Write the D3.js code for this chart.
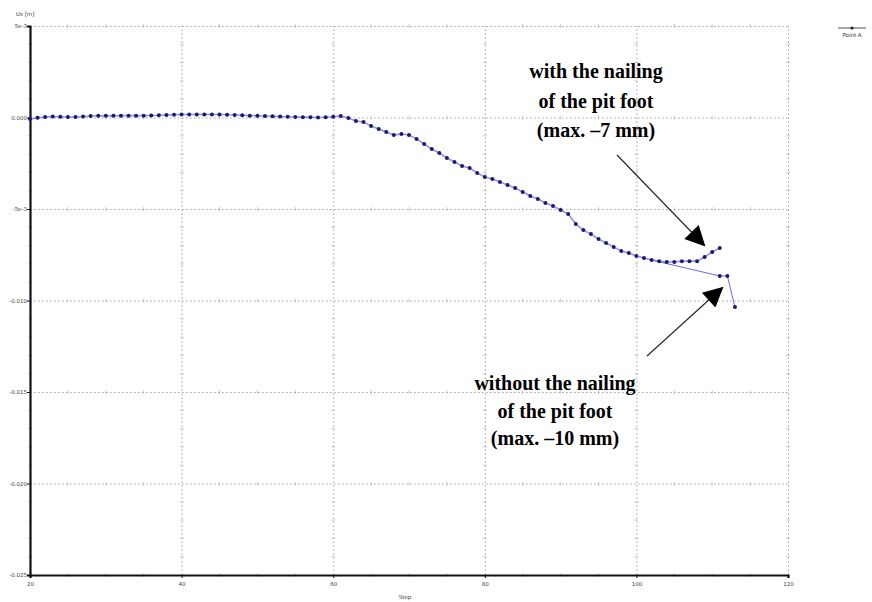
<!DOCTYPE html>
<html>
<head>
<meta charset="utf-8">
<script src="https://cdn.jsdelivr.net/npm/d3@7/dist/d3.min.js"></script>
<style>
  html, body { margin: 0; padding: 0; background: #fff; }
  svg { display: block; }
</style>
</head>
<body>
<svg id="chart" width="872" height="602"></svg>
<script>
// Horizontal displacement Ux of Point A over the calculation steps
const steps = d3.range(20, 112); // 20 … 111
const uxWithNailing = [
  -0.08, -0.02, 0.03, 0.05, 0.04, 0.03, 0.03, 0.05, 0.08, 0.09,
  0.09, 0.09, 0.10, 0.10, 0.10, 0.10, 0.11, 0.12, 0.14, 0.15,
  0.16, 0.16, 0.16, 0.17, 0.16, 0.16, 0.15, 0.14, 0.12, 0.10,
  0.09, 0.08, 0.07, 0.05, 0.04, 0.03, 0.02, 0.01, 0.00, 0.01,
  0.04, 0.08, -0.03, -0.19, -0.25, -0.46, -0.63, -0.79, -0.96, -0.90,
  -0.96, -1.17, -1.45, -1.72, -1.94, -2.21, -2.43, -2.65, -2.76, -3.03,
  -3.25, -3.36, -3.52, -3.69, -3.85, -4.07, -4.29, -4.45, -4.67, -4.84,
  -5.05, -5.27, -5.82, -6.15, -6.37, -6.64, -6.86, -7.08, -7.30, -7.41,
  -7.57, -7.68, -7.79, -7.85, -7.90, -7.90, -7.85, -7.85, -7.85, -7.62,
  -7.35, -7.13
]; // mm

// Branch computed without the nailing of the pit foot
const stepsWithout = [102, 111, 112, 113];
const uxWithout = [-7.79, -8.66, -8.66, -10.36]; // mm
const markedWithout = [false, true, true, true];

const xTicks = [20, 40, 60, 80, 100, 120];
const yTicks = [0.005, 0.000, -0.005, -0.010, -0.015, -0.020, -0.025];
const yTickLabels = ["5e-3", "0.000", "-5e-3", "-0.010", "-0.015", "-0.020", "-0.025"];

const seriesName = "Point A";
const xTitle = "Step";
const yTitle = "Ux [m]";

const noteWith = ["with the nailing", "of the pit foot", "(max. \u20137 mm)"];
const noteWithout = ["without the nailing", "of the pit foot", "(max. \u201310 mm)"];

const svg = d3.select("#chart");
const plotL = 30, plotR = 788, plotT = 26, plotB = 575;

const x = d3.scaleLinear().domain([20, 120]).range([plotL, plotR]);
const y = d3.scaleLinear().domain([-0.025, 0.005]).range([plotB, plotT]);

// dotted grid
const grid = svg.append("g");
grid.append("g")
  .attr("transform", `translate(0,${plotB})`)
  .call(d3.axisBottom(x).tickValues(xTicks).tickSize(-(plotB - plotT)).tickFormat(""))
  .call(g => g.select(".domain").remove())
  .call(g => g.selectAll("line").attr("stroke", "#8a8a8a").attr("stroke-width", 0.8)
    .attr("stroke-dasharray", "1.5,2.5"));
grid.append("g")
  .attr("transform", `translate(${plotL},0)`)
  .call(d3.axisLeft(y).tickValues(yTicks).tickSize(-(plotR - plotL)).tickFormat(""))
  .call(g => g.select(".domain").remove())
  .call(g => g.selectAll("line").attr("stroke", "#8a8a8a").attr("stroke-width", 0.8)
    .attr("stroke-dasharray", "1.5,2.5"));

// minor tick marks along the grid lines
const minorX = d3.range(20, 121, 5).filter(v => !xTicks.includes(v));
const minorY = d3.range(-0.025, 0.0051, 0.001).filter(v => !yTicks.some(t => Math.abs(t - v) < 1e-6));
xTicks.forEach(tx => {
  grid.append("g").selectAll("line").data(minorY).join("line")
    .attr("x1", x(tx) - 2).attr("x2", x(tx) + 2)
    .attr("y1", d => y(d)).attr("y2", d => y(d))
    .attr("stroke", "#aaa").attr("stroke-width", 0.6);
});
yTicks.forEach(ty => {
  grid.append("g").selectAll("line").data(minorX).join("line")
    .attr("x1", d => x(d)).attr("x2", d => x(d))
    .attr("y1", y(ty) - 2).attr("y2", y(ty) + 2)
    .attr("stroke", "#aaa").attr("stroke-width", 0.6);
});

// axes
const xAxis = svg.append("g")
  .attr("transform", `translate(0,${plotB})`)
  .call(d3.axisBottom(x).tickValues(xTicks).tickSize(3).tickFormat(d3.format("d")));
const yAxis = svg.append("g")
  .attr("transform", `translate(${plotL},0)`)
  .call(d3.axisLeft(y).tickValues(yTicks).tickSize(3)
    .tickFormat((d, i) => yTickLabels[i]));
[xAxis, yAxis].forEach(a => {
  a.select(".domain").attr("stroke", "#111").attr("stroke-width", 2.2);
  a.selectAll(".tick line").attr("stroke", "#111");
  a.selectAll(".tick text").attr("font-family", "DejaVu Sans, sans-serif")
    .attr("font-size", 5.5).attr("fill", "#444");
});
xAxis.selectAll(".tick text").attr("dy", "0.9em");
yAxis.selectAll(".tick text").attr("x", -3);

svg.append("text").attr("x", 405).attr("y", 599).attr("text-anchor", "middle")
  .attr("font-family", "DejaVu Sans, sans-serif").attr("font-size", 5.5).attr("fill", "#444")
  .text(xTitle);
svg.append("text").attr("x", 25).attr("y", 16).attr("text-anchor", "middle")
  .attr("font-family", "DejaVu Sans, sans-serif").attr("font-size", 5.5).attr("fill", "#444")
  .text(yTitle);

// data series
const ptsWith = steps.map((s, i) => [s, uxWithNailing[i] / 1000]);
const ptsWithout = stepsWithout.map((s, i) => [s, uxWithout[i] / 1000, markedWithout[i]]);
const line = d3.line().x(d => x(d[0])).y(d => y(d[1]));

svg.append("path").datum(ptsWithout).attr("d", line)
  .attr("fill", "none").attr("stroke", "#6a6ae0").attr("stroke-width", 1);
svg.append("path").datum(ptsWith).attr("d", line)
  .attr("fill", "none").attr("stroke", "#7070ee").attr("stroke-width", 1.6).attr("opacity", 0.75);

svg.append("g").selectAll("circle").data(ptsWith).join("circle")
  .attr("cx", d => x(d[0])).attr("cy", d => y(d[1])).attr("r", 2)
  .attr("fill", "#1b1b6b");
svg.append("g").selectAll("circle").data(ptsWithout.filter(d => d[2])).join("circle")
  .attr("cx", d => x(d[0])).attr("cy", d => y(d[1])).attr("r", 2)
  .attr("fill", "#1b1b6b");

// legend
const lg = svg.append("g");
lg.append("line").attr("x1", 838).attr("x2", 866).attr("y1", 28).attr("y2", 28)
  .attr("stroke", "#222").attr("stroke-width", 0.8);
lg.append("circle").attr("cx", 852).attr("cy", 28).attr("r", 1.6).attr("fill", "#222");
lg.append("text").attr("x", 852).attr("y", 37).attr("text-anchor", "middle")
  .attr("font-family", "DejaVu Sans, sans-serif").attr("font-size", 5.5).attr("fill", "#333")
  .text(seriesName);

// annotations with arrows
const defs = svg.append("defs");
defs.append("marker").attr("id", "head").attr("viewBox", "0 0 10 10")
  .attr("refX", 9).attr("refY", 5)
  .attr("markerUnits", "userSpaceOnUse").attr("orient", "auto")
  .attr("markerWidth", 22).attr("markerHeight", 20)
  .append("path").attr("d", "M0,0 L10,5 L0,10 Z").attr("fill", "#000");

function note(lines, cx, y0, dy) {
  svg.append("g").selectAll("text").data(lines).join("text")
    .attr("x", cx).attr("y", (d, i) => y0 + i * dy).attr("text-anchor", "middle")
    .attr("font-family", "Liberation Serif, serif").attr("font-weight", "bold")
    .attr("font-size", 20).attr("fill", "#000").text(d => d);
}
note(noteWith, 596, 78, 29.5);
note(noteWithout, 555, 390, 27.5);

svg.append("line").attr("x1", 617).attr("y1", 155).attr("x2", 704).attr("y2", 245)
  .attr("stroke", "#222").attr("stroke-width", 1.1).attr("marker-end", "url(#head)");
svg.append("line").attr("x1", 647).attr("y1", 356).attr("x2", 722).attr("y2", 288)
  .attr("stroke", "#222").attr("stroke-width", 1.1).attr("marker-end", "url(#head)");
</script>
</body>
</html>
